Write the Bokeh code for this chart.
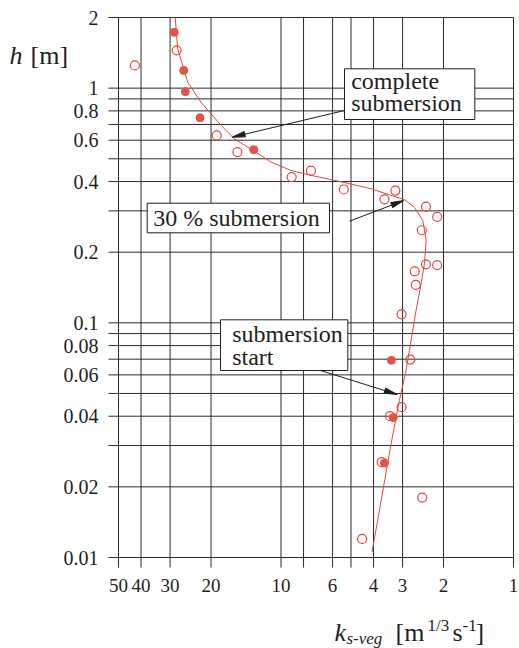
import math

from bokeh.core.properties import value
from bokeh.embed import file_html
from bokeh.models import Range1d
from bokeh.plotting import figure
from bokeh.resources import INLINE

# Vegetation roughness k_s,veg [m^(1/3) s^-1] against flow depth h [m]
ks_open = [42.5, 28.1, 18.9, 15.4, 9.0, 7.43, 5.37, 3.59, 3.22, 2.38, 2.13,
           2.48, 2.38, 2.13, 2.66, 2.63, 3.03, 2.78, 3.03, 3.40, 3.69, 2.47, 4.48]
h_open = [1.25, 1.45, 0.629, 0.534, 0.418, 0.445, 0.370, 0.336, 0.366, 0.313, 0.283,
          0.248, 0.1775, 0.1763, 0.1657, 0.145, 0.1087, 0.0697, 0.0437, 0.040, 0.0255,
          0.018, 0.012]

ks_filled = [28.8, 26.2, 25.8, 22.3, 13.1, 3.35, 3.29, 3.59]
h_filled = [1.73, 1.19, 0.966, 0.748, 0.547, 0.0692, 0.0395, 0.0253]

# Fitted trend through the measurements
ks_fit = [28.5, 27.85, 25.2, 22.1, 20.0, 18.1, 15.9, 12.2, 11.04, 9.06, 7.43, 5.70,
          4.10, 3.36, 2.945, 2.668, 2.455, 2.376, 2.416, 2.496, 2.624, 2.897, 3.095,
          3.339, 4.058]
h_fit = [2.0, 1.476, 1.061, 0.872, 0.778, 0.694, 0.609, 0.517, 0.484, 0.446, 0.425,
         0.402, 0.373, 0.349, 0.335, 0.311, 0.273, 0.2245, 0.1787, 0.1469, 0.113,
         0.0628, 0.0468, 0.0316, 0.01056]

# Grid lines and labelled ticks
h_grid = [2, 1, 0.9, 0.8, 0.7, 0.6, 0.5, 0.4, 0.3, 0.2, 0.1, 0.09, 0.08, 0.07,
          0.06, 0.05, 0.04, 0.03, 0.02, 0.01]
h_labels = [2, 1, 0.8, 0.6, 0.4, 0.2, 0.1, 0.08, 0.06, 0.04, 0.02, 0.01]
ks_grid = [50, 40, 30, 20, 10, 8, 6, 5, 4, 3, 2, 1]
ks_labels = [50, 40, 30, 20, 10, 6, 4, 3, 2, 1]

RED = "#e8463c"
RED_FILL = "#e2534a"
INK = "#1e1e1e"
GRID = "#2b2b2b"
SERIF = "Liberation Serif"

W, H = 519, 648
KS_MAX, KS_MIN = 50, 1
H_MIN, H_MAX = 0.01, 2
FL, FT, FW, FH = 118, 17, 395, 540   # where the log-log chart area sits on the page

LX0, LX1 = math.log10(KS_MAX), math.log10(KS_MIN)
LY0, LY1 = math.log10(H_MIN), math.log10(H_MAX)


def x_at(px):
    """k value that lands on page column px."""
    return 10 ** (LX0 + (px - FL) / FW * (LX1 - LX0))


def y_at(py):
    """h value that lands on page row py."""
    return 10 ** (LY1 - (py - FT) / FH * (LY1 - LY0))


# The drawing area spans the whole page so that tick labels and axis titles
# can sit beside the log-log chart area without being clipped.
p = figure(x_axis_type="log", y_axis_type="log",
           x_range=Range1d(x_at(0), x_at(W)), y_range=Range1d(y_at(H), y_at(0)),
           frame_width=W, frame_height=H, min_border=0,
           x_axis_location=None, y_axis_location=None,
           output_backend="svg", toolbar_location=None)
p.xgrid.visible = False
p.ygrid.visible = False
p.outline_line_color = None
p.background_fill_color = "white"
p.border_fill_color = "white"

# Grid lines, each running 10 px past the chart area as a tick mark
tick_bottom = y_at(FT + FH + 10)
tick_left = x_at(FL - 10)
p.segment(x0=ks_grid, x1=ks_grid, y0=[tick_bottom] * len(ks_grid), y1=[H_MAX] * len(ks_grid),
          line_color=GRID, line_width=1)
p.segment(x0=[tick_left] * len(h_grid), x1=[KS_MIN] * len(h_grid), y0=h_grid, y1=h_grid,
          line_color=GRID, line_width=1)

# Tick labels
p.text(x=[x_at(FL - 20)] * len(h_labels), y=h_labels, text=[f"{v:g}" for v in h_labels],
       text_font=value(SERIF), text_font_size="20px", text_color=INK,
       text_align="right", text_baseline="middle")
p.text(x=ks_labels, y=[y_at(FT + FH + 28)] * len(ks_labels), text=[f"{v:g}" for v in ks_labels],
       text_font=value(SERIF), text_font_size="19px", text_color=INK,
       text_align="center", text_baseline="middle")

# Trend line and measurements
p.line(ks_fit, h_fit, line_color=RED, line_width=1)
p.scatter(ks_open, h_open, marker="circle", size=9, fill_color=None,
          line_color=RED, line_width=1.2)
p.scatter(ks_filled, h_filled, marker="circle", size=8, fill_color=RED_FILL,
          line_color=RED_FILL)


def arrow(start, end, head_len=13, head_w=5.5):
    (x0, y0), (x1, y1) = start, end
    dx, dy = x1 - x0, y1 - y0
    n = math.hypot(dx, dy)
    ux, uy = dx / n, dy / n
    bx, by = x1 - ux * head_len, y1 - uy * head_len
    nx, ny = -uy, ux
    p.segment(x0=[x_at(x0)], y0=[y_at(y0)], x1=[x_at(bx)], y1=[y_at(by)],
              line_color=INK, line_width=1)
    tri = [(x1, y1),
           (bx + nx * head_w / 2, by + ny * head_w / 2),
           (bx - nx * head_w / 2, by - ny * head_w / 2)]
    p.patch([x_at(t[0]) for t in tri], [y_at(t[1]) for t in tri],
            fill_color=INK, line_color=INK, line_width=1)


def text_box(left, top, right, bottom):
    p.quad(left=[x_at(left)], right=[x_at(right)], top=[y_at(top)], bottom=[y_at(bottom)],
           fill_color="white", line_color=INK, line_width=1)


def page_text(px, baseline, txt, size=24, style="normal"):
    # text is anchored at its middle, a little above the baseline
    p.text(x=[x_at(px)], y=[y_at(baseline - 0.3 * size)], text=[txt], text_font=value(SERIF),
           text_font_size=f"{size}px", text_font_style=style, text_color=INK,
           text_align="left", text_baseline="middle")


# Annotation arrows
arrow((344, 110), (231.7, 136.7))
arrow((349, 220.7), (403.3, 200))
arrow((320, 370), (396.7, 394))

# Annotation boxes
text_box(344, 68.3, 474.3, 119)
text_box(146.7, 202.7, 329, 232.3)
text_box(220, 319.3, 347.3, 370)

page_text(350.7, 87.3, "complete")
page_text(350.7, 110, "submersion")
page_text(152.7, 224.3, "30 % submersion")
page_text(231.7, 340.7, "submersion")
page_text(231.7, 364, "start")

# Axis titles
page_text(9, 63, "h", size=26, style="italic")
page_text(30, 63, "[m]", size=26)

page_text(334, 640, "k", size=26, style="italic")
page_text(346, 643.5, "s-veg", size=17, style="italic")
page_text(395, 640, "[m", size=26)
page_text(427, 630, "1/3", size=17)
page_text(452, 640, "s", size=26)
page_text(462, 630, "-1", size=17)
page_text(475, 640, "]", size=26)

open("out.html", "w").write(file_html(p, INLINE))
